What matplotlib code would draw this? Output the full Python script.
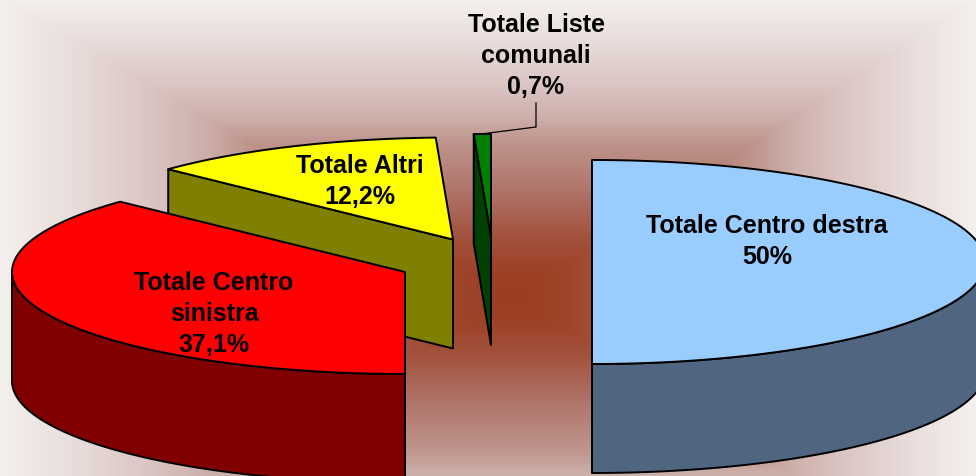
import numpy as np
import matplotlib
matplotlib.use('Agg')
import matplotlib.pyplot as plt
from matplotlib.patches import Polygon

labels = ['Totale Centro destra', 'Totale Centro\nsinistra', 'Totale Altri', 'Totale Liste\ncomunali']
values = [50, 37.1, 12.2, 0.7]
value_texts = ['50%', '37,1%', '12,2%', '0,7%']

top_colors = ['#99CCFF', '#FF0000', '#FFFF00', '#008000']
side_colors = ['#4F6580', '#800000', '#808000', '#004000']

# where each exploded slice has its apex, in pixels
centers = [(592, 263), (405, 273), (453, 240.5), (491, 237)]
text_pos = [(767, 241.5), (214, 314), (360, 181.5), (536, 56)]
A, B, DEPTH = 393, 102, 109

W, H = 976, 477

plt.rcParams['font.family'] = ['Liberation Sans', 'DejaVu Sans']
fig = plt.figure(figsize=(W / 100, H / 100), dpi=100)
ax = fig.add_axes([0, 0, 1, 1])
ax.set_xlim(0, W)
ax.set_ylim(H, 0)
ax.axis('off')

# background, rectangular path gradient
xx, yy = np.meshgrid(np.arange(W) + 0.5, np.arange(H) + 0.5)
dx = np.where(xx < 515, (515 - xx) / 515, (xx - 515) / 461)
d = np.maximum(dx, np.abs(yy - 297) / 297)
stops = [0, 0.1, 0.2, 0.35, 0.515, 0.6, 0.7, 0.85, 1.0]
reds = [155, 158, 162, 175, 190, 205, 218, 232, 244]
greens = [60, 68, 82, 115, 148, 175, 195, 220, 240]
blues = [30, 42, 60, 105, 140, 170, 192, 218, 238]
bg = np.dstack([np.interp(d, stops, c) for c in (reds, greens, blues)]) / 255
ax.imshow(bg, extent=(0, W, H, 0), aspect='auto', zorder=0)


def arc(c, t1, t2, n=120):
    t = np.radians(np.linspace(t1, t2, n))
    return np.column_stack([c[0] + A * np.cos(t), c[1] - B * np.sin(t)])


# slices run clockwise from 12 o'clock
ends = 90 - np.cumsum(values) * 3.6
starts = np.r_[90, ends[:-1]]
kw = dict(edgecolor='black', linewidth=1.4, joinstyle='round')
down = np.array([0, DEPTH])

# back to front so that red sits over the olive wall
for i in [3, 2, 1, 0]:
    c = centers[i]
    th1, th2 = starts[i], ends[i]
    z = 2 + 2 * (3 - i)
    # cut face seen on the left side of the slice
    if i in (2, 3):
        p1 = arc(c, th1, th1, 1)[0]
        face = [p1, c, np.array(c) + down, p1 + down]
        ax.add_patch(Polygon(face, facecolor=side_colors[i], zorder=z, **kw))
    # outer wall, lower half of the ellipse only
    if i == 0:
        rim = arc(c, 0, -90)
    elif i == 1:
        rim = arc(c, -90, -180)
    else:
        rim = None
    if rim is not None:
        wall = np.vstack([rim, (rim + down)[::-1]])
        ax.add_patch(Polygon(wall, facecolor=side_colors[i], zorder=z, **kw))
    top = np.vstack([[c], arc(c, th1, th2)])
    ax.add_patch(Polygon(top, facecolor=top_colors[i], zorder=z + 1, **kw))

# leader line for the smallest slice
ax.plot([481, 536, 536], [135, 128, 104], color='black', lw=0.9, zorder=12)

for i in range(len(labels)):
    ax.text(text_pos[i][0], text_pos[i][1], labels[i] + '\n' + value_texts[i],
            ha='center', va='center', ma='center', fontsize=18, fontweight='bold',
            linespacing=1.35, color='black', zorder=13)

fig.savefig('out.png', dpi=100)
